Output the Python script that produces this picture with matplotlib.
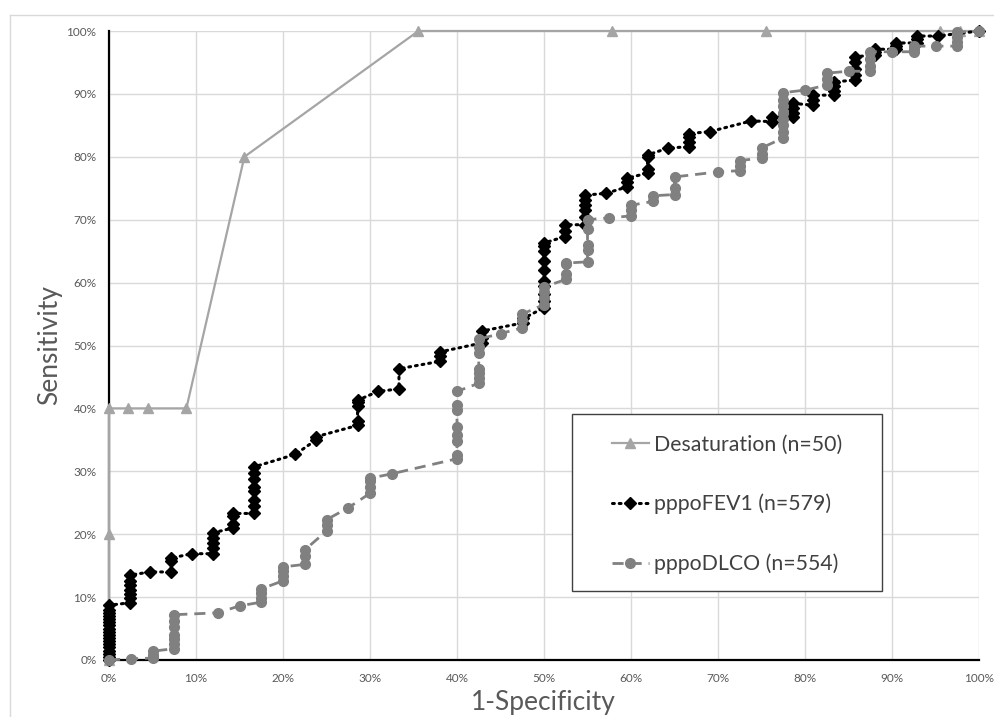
import numpy as np
import matplotlib.pyplot as plt
from matplotlib.lines import Line2D
from matplotlib.patches import Rectangle
from matplotlib.ticker import PercentFormatter, MultipleLocator

plt.rcParams['font.family'] = ['Lato', 'DejaVu Sans']

# ROC points, values in percent (1-Specificity, Sensitivity)
desat_x = [0, 0, 0, 2.22, 4.44, 8.89, 15.56, 35.56, 57.78, 75.56, 95.56, 97.78, 100]
desat_y = [0, 20, 40, 40, 40, 40, 80, 100, 100, 100, 100, 100, 100]

fev1_x = ([0] * 18 + [2.38] * 7 + [4.76] + [7.14] * 3 + [9.52] + [11.9] * 5
          + [14.29] * 4 + [16.67] * 8 + [21.43] + [23.81] * 2 + [28.57] * 5
          + [30.95] + [33.33] * 2 + [38.1] * 3 + [42.86] * 3 + [47.62] * 2
          + [50.0] * 10 + [52.38] * 3 + [54.76] * 6 + [57.14] + [59.52] * 3
          + [61.9] * 4 + [64.29] + [66.67] * 4 + [69.05] + [73.81] + [76.19] * 2
          + [78.57] * 4 + [80.95] * 3 + [83.33] * 4 + [85.71] * 5 + [88.1] * 3
          + [90.48] * 3 + [92.86] * 3 + [95.24] + [100])
fev1_y = [0, 0.5, 1, 1.5, 2, 2.5, 3, 3.5, 4, 4.5, 5, 5.5, 6, 6.5, 7, 7.5, 8, 8.7,
          9.1, 9.8, 10.5, 11.2, 11.9, 12.6, 13.5,
          14.0,
          14.0, 15.8, 16.2,
          16.9,
          16.9, 17.8, 18.6, 19.4, 20.2,
          21.0, 21.6, 22.9, 23.3,
          23.3, 24.5, 25.5, 26.8, 27.5, 28.8, 29.8, 30.7,
          32.7,
          35.0, 35.5,
          37.3, 38.0, 40.4, 41.0, 41.3,
          42.7,
          43.1, 46.3,
          47.5, 48.3, 49.0,
          50.4, 51.2, 52.3,
          53.6, 54.3,
          56.0, 57.0, 58.2, 59.5, 60.2, 62.0, 63.4, 65.0, 65.8, 66.3,
          67.3, 68.2, 69.2,
          69.2, 70.5, 71.5, 72.3, 73.2, 73.9,
          74.2,
          75.2, 76.0, 76.6,
          77.4, 78.0, 80.0, 80.3,
          81.4,
          81.6, 82.4, 83.2, 83.7,
          84.0,
          85.7,
          85.6, 86.4,
          86.4, 87.0, 87.8, 88.5,
          88.2, 89.0, 89.8,
          89.8, 90.5, 91.2, 91.9,
          92.2, 93.0, 94.0, 95.0, 95.9,
          96.2, 96.7, 97.1,
          97.1, 97.6, 98.1,
          98.1, 98.7, 99.2,
          99.2,
          100]

dlco_x = ([0] + [2.5] + [5] * 3 + [7.5] * 7 + [12.5] + [15] + [17.5] * 4
          + [20] * 4 + [22.5] * 3 + [25] * 3 + [27.5] + [30] * 4 + [32.5]
          + [40] * 8 + [42.5] * 7 + [45] + [47.5] * 3 + [50] * 4 + [52.5] * 4
          + [55] * 5 + [57.5] + [60] * 3 + [62.5] * 2 + [65] * 3 + [70]
          + [72.5] * 3 + [75] * 3 + [77.5] * 8 + [80] + [82.5] * 3 + [85]
          + [87.5] * 4 + [90] + [92.5] * 3 + [95] + [97.5] * 4 + [100])
dlco_y = [0,
          0.2,
          0.3, 0.8, 1.4,
          1.8, 2.5, 3.3, 4.0, 5.3, 6.2, 7.2,
          7.5,
          8.6,
          9.2, 9.9, 10.6, 11.3,
          12.6, 13.4, 14.2, 14.8,
          15.2, 16.5, 17.5,
          20.5, 21.4, 22.3,
          24.2,
          26.5, 27.5, 28.5, 28.9,
          29.6,
          32.0, 32.6, 34.8, 35.8, 37.0, 39.8, 40.6, 42.7,
          44.0, 44.8, 45.6, 46.3, 48.8, 49.8, 51.0,
          51.9,
          52.8, 54.0, 55.0,
          56.5, 57.5, 58.5, 59.3,
          60.5, 61.3, 62.9, 63.1,
          63.3, 65.2, 66.0, 68.5, 70.0,
          70.3,
          70.6, 71.5, 72.3,
          72.9, 73.8,
          74.0, 75.0, 76.8,
          77.6,
          77.8, 78.5, 79.4,
          79.8, 80.5, 81.4,
          83.0, 84.0, 85.0, 86.0, 87.0, 88.0, 89.0, 90.2,
          90.6,
          91.4, 92.3, 93.3,
          93.6,
          93.6, 94.5, 95.5, 96.7,
          96.7,
          96.7, 97.2, 97.6,
          97.6,
          97.6, 98.3, 99.0, 99.8,
          100]

labels = ['Desaturation (n=50)', 'pppoFEV1 (n=579)', 'pppoDLCO (n=554)']

txt = '#595959'
fig = plt.figure(figsize=(9.94, 7.17), dpi=100)
ax = fig.add_axes([109 / 994, 57 / 717, 870 / 994, 629 / 717])

# outer chart border (cropped at bottom)
fig.add_artist(Line2D([10 / 994, 10 / 994], [0, 1 - 15 / 717], color='#d9d9d9', lw=1))
fig.add_artist(Line2D([10 / 994, 993 / 994], [1 - 15 / 717, 1 - 15 / 717], color='#d9d9d9', lw=1))

ax.plot(desat_x, desat_y, color='#a5a5a5', lw=1.6, marker='^', ms=7,
        label=labels[0], clip_on=False, zorder=3)
ax.plot(fev1_x, fev1_y, color='black', lw=2.2, ls=(0, (0.6, 1.6)),
        dash_capstyle='round', marker='D', ms=6.5, label=labels[1],
        clip_on=False, zorder=4)
ax.plot(dlco_x, dlco_y, color='#808080', lw=2, ls=(0, (4, 2.5)),
        marker='o', ms=7, label=labels[2], clip_on=False, zorder=5)

ax.set_xlim(0, 100)
ax.set_ylim(0, 100)
ax.xaxis.set_major_locator(MultipleLocator(10))
ax.yaxis.set_major_locator(MultipleLocator(10))
ax.xaxis.set_major_formatter(PercentFormatter(100, decimals=0))
ax.yaxis.set_major_formatter(PercentFormatter(100, decimals=0))
ax.grid(True, color='#d9d9d9', lw=1)
ax.set_axisbelow(True)
ax.tick_params(length=0, labelsize=8.5, labelcolor=txt)
ax.tick_params(axis='x', pad=9)
ax.tick_params(axis='y', pad=9)
for s in ['top', 'right']:
    ax.spines[s].set_visible(False)
for s in ['left', 'bottom']:
    ax.spines[s].set_color('black')
    ax.spines[s].set_linewidth(1.6)

# axis titles
fig.text(50 / 994, 1 - 345 / 717, 'Sensitivity', rotation=90, ha='center',
         va='center', fontsize=19, color=txt)
fig.text(543.5 / 994, 7 / 717, '1-Specificity', ha='center', va='baseline',
         fontsize=19, color=txt)

# legend frame and entries
ax.add_patch(Rectangle((0.5322, 0.1097), 0.3563, 0.2814, transform=ax.transAxes,
                       facecolor='white', edgecolor='#404040', lw=1, zorder=6))
leg = ax.legend(loc='center left', bbox_to_anchor=(0.578, 0.2475), frameon=False,
                fontsize=15.3, handlelength=1.75, handletextpad=0.25, labelspacing=1.85,
                borderpad=0, borderaxespad=0, numpoints=1)
leg.set_zorder(7)
for t in leg.get_texts():
    t.set_color('#404040')

fig.savefig('out.png', dpi=100)
